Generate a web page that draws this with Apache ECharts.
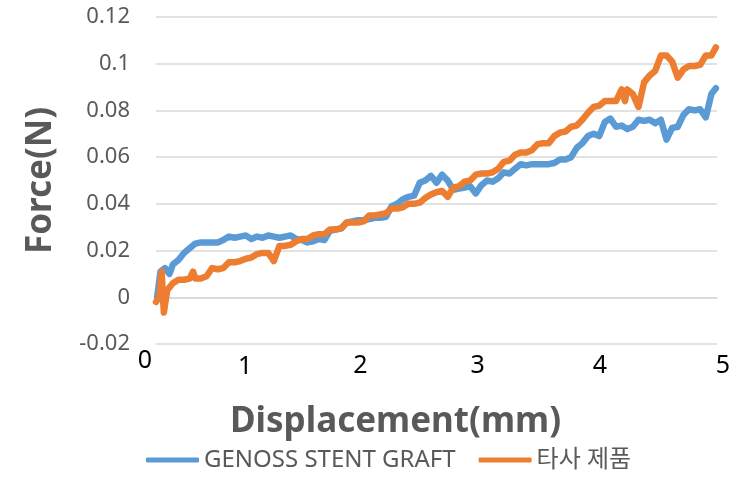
<!DOCTYPE html>
<html>
<head>
<meta charset="utf-8">
<script src="https://cdn.jsdelivr.net/npm/echarts@6/dist/echarts.min.js"></script>
<style>html,body{margin:0;padding:0;background:#fff;}#c{width:742px;height:501px;}</style>
</head>
<body>
<div id="c"></div>
<script>
var seriesNames = ['GENOSS STENT GRAFT', '타사 제품'];
var xTickLabels = ['0', '1', '2', '3', '4', '5'];

var genossX = [0.01,0.04,0.08,0.12,0.15,0.2,0.25,0.3,0.35,0.4,0.45,0.5,0.55,0.6,0.65,0.7,0.75,0.8,0.85,0.9,0.95,1.0,1.05,1.1,1.15,1.2,1.25,1.3,1.35,1.4,1.45,1.5,1.55,1.6,1.65,1.7,1.75,1.8,1.85,1.9,1.95,2.0,2.05,2.1,2.15,2.2,2.25,2.3,2.35,2.4,2.45,2.5,2.55,2.6,2.65,2.7,2.75,2.8,2.85,2.9,2.95,3.0,3.05,3.1,3.15,3.2,3.25,3.3,3.35,3.4,3.45,3.5,3.55,3.6,3.65,3.7,3.75,3.8,3.85,3.9,3.95,4.0,4.05,4.1,4.15,4.2,4.25,4.3,4.35,4.4,4.45,4.5,4.55,4.6,4.65,4.7,4.75,4.8,4.85,4.9,4.95,4.99];
var genossY = [0.000,0.011,0.0125,0.010,0.014,0.016,0.019,0.021,0.023,0.0235,0.0235,0.0235,0.0235,0.0245,0.026,0.0255,0.026,0.0265,0.025,0.026,0.0255,0.0265,0.026,0.0255,0.026,0.0265,0.025,0.0245,0.0235,0.024,0.025,0.0245,0.0285,0.029,0.0295,0.032,0.0325,0.033,0.033,0.0335,0.034,0.034,0.0345,0.039,0.040,0.042,0.043,0.0435,0.049,0.050,0.052,0.049,0.0525,0.050,0.046,0.0465,0.047,0.0475,0.0445,0.048,0.050,0.0495,0.051,0.0535,0.053,0.055,0.057,0.0565,0.057,0.057,0.057,0.057,0.0575,0.059,0.059,0.060,0.064,0.066,0.069,0.070,0.069,0.075,0.0765,0.073,0.0735,0.072,0.073,0.076,0.0755,0.076,0.0745,0.076,0.0675,0.0725,0.073,0.078,0.0805,0.080,0.0805,0.077,0.087,0.0895];

var otherX = [0.0,0.03,0.05,0.07,0.1,0.15,0.2,0.25,0.3,0.33,0.35,0.4,0.45,0.5,0.55,0.6,0.65,0.7,0.75,0.8,0.85,0.9,0.95,1.0,1.05,1.1,1.15,1.2,1.25,1.3,1.35,1.4,1.45,1.5,1.55,1.6,1.65,1.7,1.75,1.8,1.85,1.9,1.95,2.0,2.05,2.1,2.15,2.2,2.25,2.3,2.35,2.4,2.45,2.5,2.55,2.6,2.65,2.7,2.75,2.8,2.85,2.9,2.95,3.0,3.05,3.1,3.15,3.2,3.25,3.3,3.35,3.4,3.45,3.5,3.55,3.6,3.65,3.7,3.75,3.8,3.85,3.9,3.95,4.0,4.05,4.1,4.15,4.18,4.2,4.25,4.3,4.35,4.4,4.45,4.5,4.55,4.6,4.65,4.7,4.75,4.8,4.85,4.9,4.95,4.99];
var otherY = [-0.002,0.0,0.011,-0.0065,0.003,0.006,0.0075,0.0075,0.008,0.011,0.008,0.008,0.009,0.0125,0.012,0.0125,0.015,0.015,0.0155,0.0165,0.017,0.0185,0.019,0.019,0.0155,0.022,0.022,0.0225,0.024,0.025,0.025,0.0265,0.027,0.027,0.029,0.029,0.0295,0.032,0.032,0.032,0.0325,0.035,0.035,0.0355,0.036,0.038,0.038,0.0385,0.040,0.040,0.0405,0.0425,0.044,0.045,0.0455,0.043,0.047,0.0475,0.0495,0.050,0.0525,0.053,0.053,0.0535,0.055,0.058,0.0585,0.061,0.062,0.062,0.063,0.0655,0.066,0.066,0.069,0.0705,0.071,0.073,0.0735,0.076,0.079,0.0815,0.082,0.084,0.084,0.084,0.089,0.084,0.089,0.087,0.0815,0.092,0.095,0.097,0.1035,0.1035,0.101,0.094,0.0975,0.099,0.099,0.0995,0.1035,0.1035,0.107];

function pairs(xs, ys) { return xs.map(function (x, i) { return [x, ys[i]]; }); }

var FONT = "'Noto Sans', 'Noto Sans CJK KR', sans-serif";
var labelShiftX = [-11, -23, -20, -15, -5, 6];
var labelShiftY = [0, 6, 5, 5, 5, 5];
var rich = {};
xTickLabels.forEach(function (t, i) {
  var dx = labelShiftX[i];
  rich['t' + i] = {
    fontSize: 25, color: '#000000', fontFamily: FONT,
    padding: [labelShiftY[i], dx < 0 ? -2 * dx : 0, 0, dx > 0 ? 2 * dx : 0]
  };
});

var chart = echarts.init(document.getElementById('c'), null, { renderer: 'canvas', width: 742, height: 501 });
chart.setOption({
  animation: false,
  backgroundColor: '#ffffff',
  textStyle: { fontFamily: FONT },
  grid: { left: 156, right: 25, top: 17, bottom: 157, containLabel: false },
  legend: {
    data: seriesNames,
    left: 141, top: 443,
    icon: 'roundRect',
    itemWidth: 53, itemHeight: 5, itemGap: 23,
    textStyle: { fontSize: 24, color: '#595959', fontFamily: FONT }
  },
  xAxis: {
    type: 'value', min: 0, max: 5, interval: 1,
    axisLine: { show: true, lineStyle: { color: '#D9D9D9', width: 1.5 } },
    axisTick: { show: false },
    splitLine: { show: false },
    axisLabel: {
      margin: 4,
      formatter: function (v) { var i = Math.round(v); return '{t' + i + '|' + xTickLabels[i] + '}'; },
      rich: rich
    },
    name: 'Displacement(mm)', nameLocation: 'middle', nameGap: 61,
    nameTextStyle: { fontSize: 35, fontWeight: 'bold', color: '#595959', fontFamily: FONT, padding: [0, 82, 0, 0] }
  },
  yAxis: {
    type: 'value', min: -0.02, max: 0.12, interval: 0.02,
    axisLine: { show: false }, axisTick: { show: false },
    splitLine: { show: true, lineStyle: { color: '#D9D9D9', width: 1.5 } },
    axisLabel: { margin: 26, fontSize: 22, color: '#595959', fontFamily: FONT },
    name: 'Force(N)', nameLocation: 'middle', nameGap: 97,
    nameTextStyle: { fontSize: 35, fontWeight: 'bold', color: '#595959', fontFamily: FONT }
  },
  series: [
    {
      name: seriesNames[0], type: 'line', showSymbol: false, symbol: 'none',
      data: pairs(genossX, genossY),
      itemStyle: { color: '#5B9BD5' },
      lineStyle: { color: '#5B9BD5', width: 6.5, cap: 'round', join: 'round' }
    },
    {
      name: seriesNames[1], type: 'line', showSymbol: false, symbol: 'none',
      data: pairs(otherX, otherY),
      itemStyle: { color: '#ED7D31' },
      lineStyle: { color: '#ED7D31', width: 6.5, cap: 'round', join: 'round' }
    }
  ]
});
</script>
</body>
</html>
